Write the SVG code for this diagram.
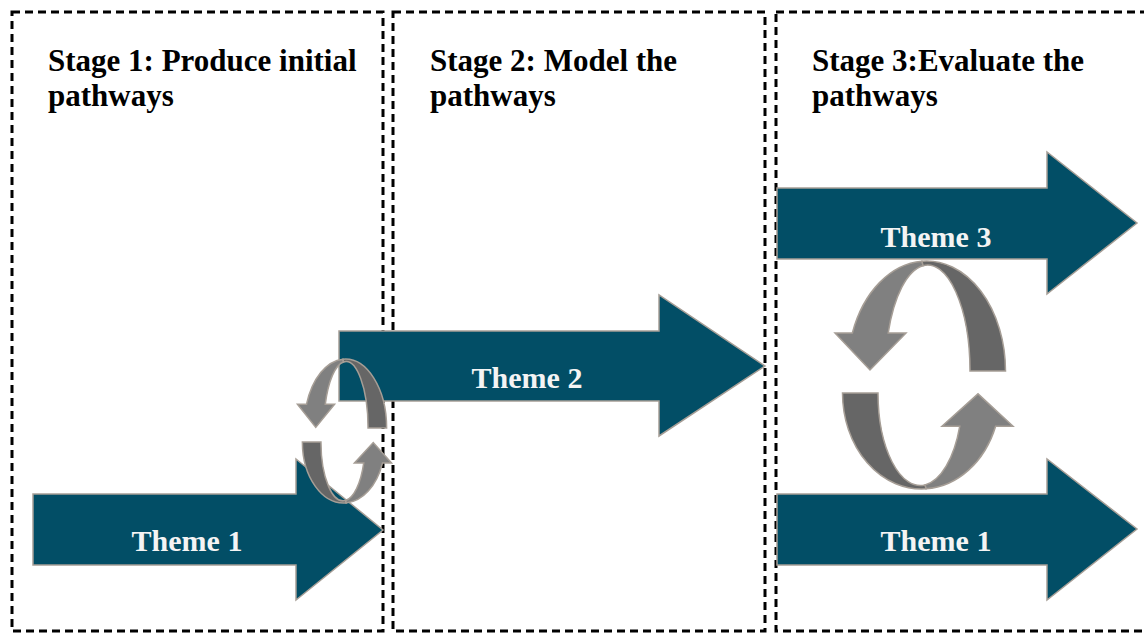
<svg xmlns="http://www.w3.org/2000/svg" xmlns:xlink="http://www.w3.org/1999/xlink" width="1144" height="633" viewBox="0 0 1144 633">
<style>
.stage{fill:none;stroke:#000;stroke-width:3;stroke-dasharray:8 5}
.head{font-family:"Liberation Serif","Times New Roman",serif;font-weight:bold;font-size:31px;fill:#000}
.theme{fill:#024E66;stroke:#A69E96;stroke-width:1.5}
.tlabel{font-family:"Liberation Serif","Times New Roman",serif;font-weight:bold;font-size:30px;fill:#F4F4F4;text-anchor:middle}
.light{fill:#808080;stroke:#A69E96;stroke-width:1.5;vector-effect:non-scaling-stroke}
.dark{fill:#666666;stroke:#A69E96;stroke-width:1.5;vector-effect:non-scaling-stroke}
</style>
<defs>
<g id="cyc">
<path class="light" d="M-71.64,-38 A79,110 0 0 1 -2,-109.82 L-1,-105.34 A42.3,106 0 0 0 -35.79,-38 L-18,-38 L-54,-1 L-89,-38 Z"/>
<path class="dark" d="M-2,-109.82 A79,110 0 0 1 81.5,0 L46,0 A42.3,106 0 0 0 -1,-105.34 Z"/>
</g>
</defs>
<rect width="1144" height="633" fill="#fff"/>
<g id="stage1">
<rect class="stage" x="12" y="12" width="371" height="619"/>
<text class="head" x="48" y="71">Stage 1: Produce initial</text>
<text class="head" x="48" y="106">pathways</text>
</g>
<g id="stage2">
<rect class="stage" x="393" y="12" width="372" height="619"/>
<text class="head" x="430" y="71">Stage 2: Model the</text>
<text class="head" x="430" y="106">pathways</text>
</g>
<g id="stage3">
<rect class="stage" x="776" y="12" width="400" height="619"/>
<text class="head" x="812" y="71">Stage 3:Evaluate the</text>
<text class="head" x="812" y="106">pathways</text>
</g>
<g id="theme1-left">
<path class="theme" d="M33,494 L296,494 L296,459 L383,530 L296,600 L296,565 L33,565 Z"/>
<text class="tlabel" x="187" y="551">Theme 1</text>
</g>
<g id="theme2">
<path class="theme" d="M339,331 L659,331 L659,295 L765,366 L659,436 L659,401 L339,401 Z"/>
<text class="tlabel" x="527" y="388">Theme 2</text>
</g>
<g id="theme3">
<path class="theme" d="M777,188 L1047,188 L1047,152 L1137,223 L1047,294 L1047,259 L777,259 Z"/>
<text class="tlabel" x="936" y="247">Theme 3</text>
</g>
<g id="theme1-right">
<path class="theme" d="M777,494 L1047,494 L1047,459 L1137,529 L1047,600 L1047,565 L777,565 Z"/>
<text class="tlabel" x="936" y="551">Theme 1</text>
</g>
<g id="connectors">
<use xlink:href="#cyc" href="#cyc" transform="translate(344,428) scale(0.523,0.627)"/>
<use xlink:href="#cyc" href="#cyc" transform="translate(345,442) scale(-0.523,-0.555)"/>
<use xlink:href="#cyc" href="#cyc" transform="translate(924,371)"/>
<use xlink:href="#cyc" href="#cyc" transform="translate(924,393) scale(-1,-0.873)"/>
</g>
</svg>
